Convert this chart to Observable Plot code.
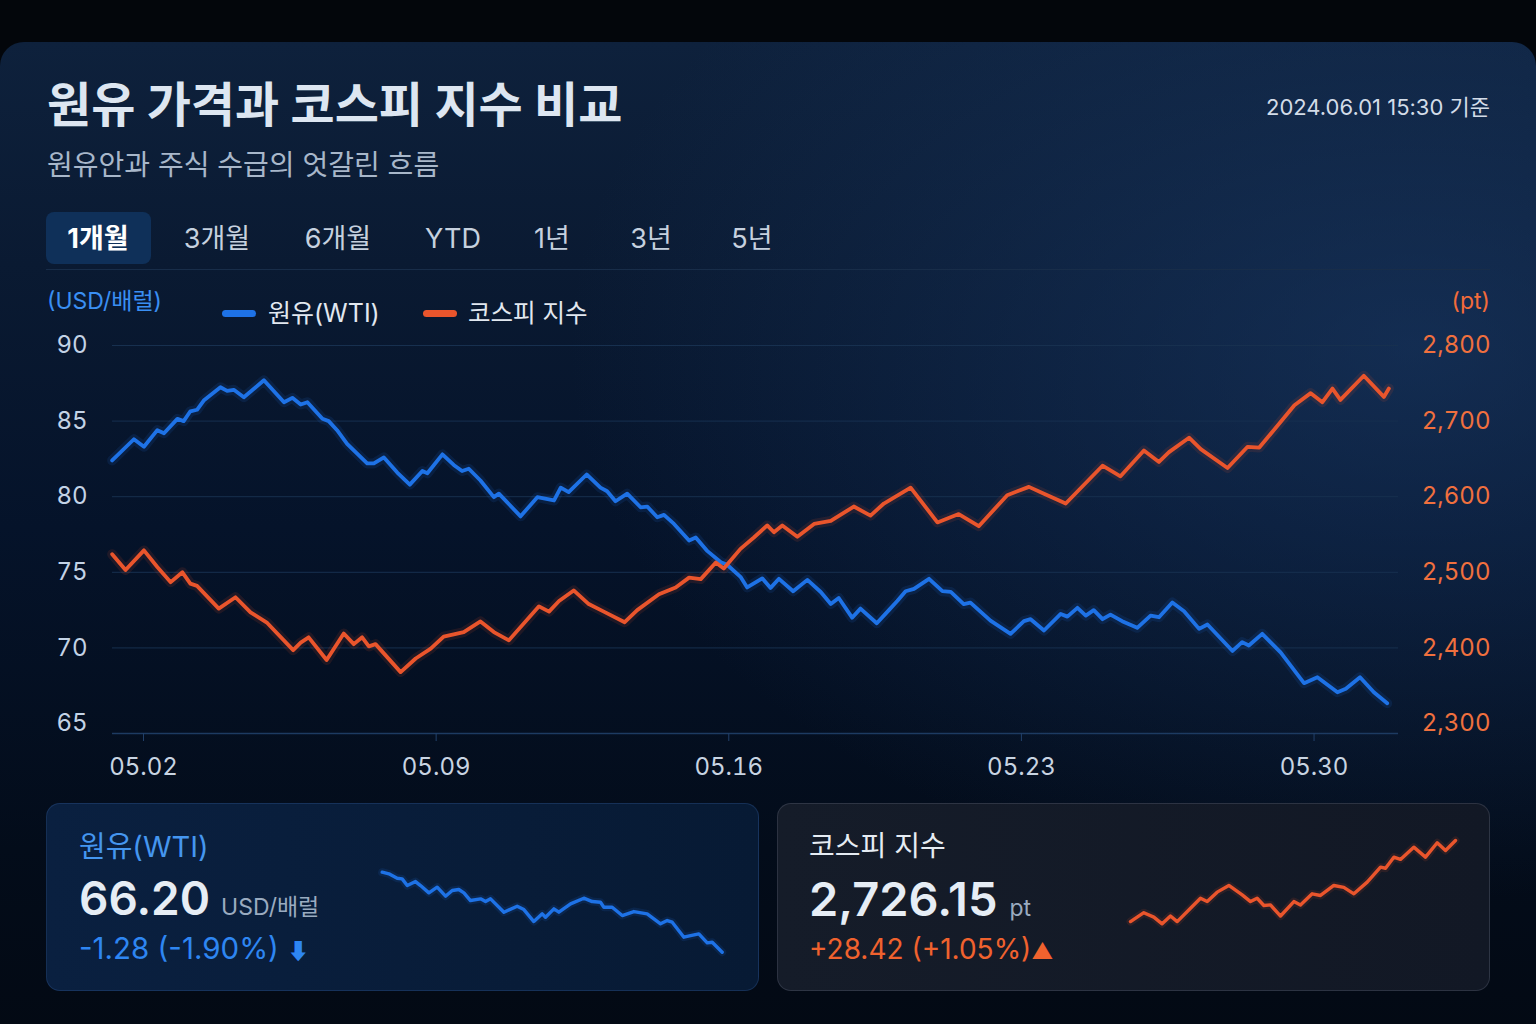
<!DOCTYPE html>
<html lang="ko">
<head>
<meta charset="utf-8">
<script src="https://cdn.jsdelivr.net/npm/d3@7"></script>
<script src="https://cdn.jsdelivr.net/npm/@observablehq/plot@0.6"></script>
<style>
  html, body { margin:0; padding:0; }
  body { width:1536px; height:1024px; overflow:hidden; background:#03060b;
         font-family: Inter, "Noto Sans CJK KR", "Noto Sans", sans-serif; }
  .card { position:absolute; left:0; top:42px; width:1536px; height:1010px; border-radius:24px;
          background:
            radial-gradient(ellipse 55% 55% at 92% 30%, rgba(28,62,110,0.55), rgba(28,62,110,0) 100%),
            linear-gradient(to bottom, #0e213c 0%, #0a1a32 22%, #05132a 48%, #030c1a 80%, #030913 100%); }
  .t { position:absolute; line-height:1; white-space:nowrap; }
  .tab { position:absolute; top:224.5px; width:100px; text-align:center; font-size:27px; line-height:1; color:#c6d1df; }
  .sel { position:absolute; left:46px; top:212px; width:105px; height:52px; border-radius:8px; background:#0f3059; }
  .box { position:absolute; top:803px; width:713px; height:188px; border-radius:14px; box-sizing:border-box; }
  .big { display:flex; align-items:baseline; }
  #main, #sparkOil, #sparkKospi { position:absolute; }
</style>
</head>
<body>
<div class="card"></div>

<div class="t" style="left:47px; top:80.5px; font-size:48px; font-weight:700; color:#dde6f1;">원유 가격과 코스피 지수 비교</div>
<div class="t" style="left:47px; top:151px; font-size:28px; color:#a8b7ca;">원유안과 주식 수급의 엇갈린 흐름</div>
<div class="t" style="right:46px; top:96px; font-size:22px; color:#d3dce8;">2024.06.01 15:30 기준</div>

<div class="sel"></div>
<div class="tab" style="left:48px; color:#ffffff; font-weight:700;">1개월</div>
<div class="tab" style="left:167px;">3개월</div>
<div class="tab" style="left:288px;">6개월</div>
<div class="tab" style="left:403px;">YTD</div>
<div class="tab" style="left:502px;">1년</div>
<div class="tab" style="left:601px;">3년</div>
<div class="tab" style="left:702px;">5년</div>
<div class="t" style="left:46px; top:269px; width:1444px; height:1px; background:#182d49;"></div>

<div class="t" style="left:47px; top:289.5px; font-size:23px; color:#3a8ff3;">(USD/배럴)</div>
<div class="t" style="left:222px; top:309.5px; width:34px; height:7px; border-radius:4px; background:#1e72e6;"></div>
<div class="t" style="left:268px; top:300.5px; font-size:25px; color:#e2e8f0;">원유(WTI)</div>
<div class="t" style="left:423px; top:309.5px; width:34px; height:7px; border-radius:4px; background:#ea552c;"></div>
<div class="t" style="left:468px; top:300.5px; font-size:24.5px; color:#e2e8f0;">코스피 지수</div>
<div class="t" style="right:46px; top:289.5px; font-size:23px; color:#f26b3a;">(pt)</div>

<div id="main" style="left:0px; top:330px;"></div>

<div class="box" style="left:46px; background:linear-gradient(to right, #0a2040, #071a34); border:1px solid rgba(50,90,150,0.35);"></div>
<div class="box" style="left:777px; background:linear-gradient(to right, #151c29, #121825); border:1px solid rgba(110,120,140,0.28);"></div>

<div class="t" style="left:79px; top:831.5px; font-size:29px; color:#4596ef;">원유(WTI)</div>
<div class="t big" style="left:79px; top:875px; font-size:46px; font-weight:600; color:#e6edf5;">66.20<span style="font-size:23px; font-weight:400; color:#9aabc0; margin-left:11px;">USD/배럴</span></div>
<div class="t" style="left:79px; top:934px; font-size:29.5px; color:#2e86f2;">-1.28 (-1.90%) <span style="font-size:22px;">⬇</span></div>

<div class="t" style="left:809px; top:832px; font-size:28px; color:#e6ecf3;">코스피 지수</div>
<div class="t big" style="left:809px; top:874.5px; font-size:47px; font-weight:600; color:#e6edf5;">2,726.15<span style="font-size:23px; font-weight:400; color:#9aabc0; margin-left:12px;">pt</span></div>
<div class="t" style="left:809px; top:935px; font-size:28px; color:#f0622e;">+28.42 (+1.05%)<span style="font-size:22px;">▲</span></div>

<div id="sparkOil" style="left:375px; top:860px;"></div>
<div id="sparkKospi" style="left:1120px; top:830px;"></div>

<script>
// ---------------- data ----------------
// day-of-May positions (fractional) and WTI prices, USD/bbl
const oilDays = [1.25,1.77,2.01,2.33,2.49,2.81,2.96,3.12,3.28,3.44,3.84,4.00,4.16,4.40,4.88,5.36,5.56,5.76,5.92,6.28,6.43,6.63,6.87,7.03,7.35,7.51,7.75,8.07,8.37,8.67,8.79,9.15,9.42,9.62,9.78,10.06,10.38,10.50,11.02,11.42,11.82,11.98,12.17,12.60,12.93,13.09,13.29,13.57,13.89,14.05,14.29,14.45,14.69,15.05,15.21,15.49,15.81,15.96,16.28,16.44,16.80,17.00,17.20,17.54,17.88,18.20,18.44,18.63,18.95,19.15,19.54,19.83,20.03,20.23,20.43,20.79,21.11,21.31,21.62,21.78,22.26,22.74,23.06,23.22,23.54,23.94,24.10,24.34,24.54,24.73,24.94,25.13,25.41,25.77,26.09,26.29,26.61,26.89,27.25,27.45,28.05,28.28,28.44,28.76,29.20,29.76,30.08,30.56,30.76,31.10,31.43,31.75];
const oilValues = [82.4,83.8,83.3,84.4,84.2,85.15,85.0,85.65,85.75,86.36,87.24,87.0,87.07,86.58,87.7,86.25,86.54,86.1,86.25,85.15,85.0,84.4,83.5,83.06,82.2,82.2,82.6,81.6,80.8,81.7,81.55,82.8,82.1,81.7,81.85,81.07,79.97,80.2,78.7,79.97,79.75,80.6,80.3,81.47,80.6,80.36,79.7,80.2,79.3,79.35,78.64,78.8,78.2,77.1,77.3,76.4,75.67,75.5,74.7,74.0,74.6,73.97,74.57,73.75,74.5,73.7,72.9,73.3,72.0,72.6,71.63,72.5,73.1,73.75,73.9,74.57,73.75,73.7,72.9,73.0,71.8,70.93,71.77,71.9,71.15,72.25,72.07,72.65,72.14,72.5,71.9,72.2,71.77,71.33,72.14,72.03,73.0,72.43,71.26,71.55,69.8,70.38,70.16,70.93,69.7,67.67,68.06,67.07,67.3,68.06,67.07,66.34];

// day-of-May positions and KOSPI index, pt
const kospiDays = [1.25,1.57,2.01,2.33,2.65,2.93,3.12,3.28,3.80,4.20,4.56,4.96,5.58,5.76,5.95,6.38,6.79,7.03,7.23,7.39,7.55,8.15,8.51,8.87,9.18,9.66,10.06,10.38,10.74,11.46,11.70,11.94,12.29,12.65,13.01,13.51,13.81,14.33,14.73,15.05,15.33,15.69,15.88,16.28,16.60,16.92,17.08,17.28,17.64,18.04,18.44,18.99,19.39,19.71,20.35,20.99,21.50,21.98,22.66,23.18,23.54,24.06,24.94,25.37,25.93,26.29,26.53,27.01,27.29,27.93,28.41,28.69,29.53,29.92,30.20,30.44,30.63,31.19,31.67,31.79];
const kospiValues = [2524,2503,2529,2507,2487,2500,2485,2482,2452,2467,2447,2433,2397,2407,2414,2384,2419,2405,2414,2402,2405,2368,2386,2399,2415,2421,2435,2421,2410,2455,2448,2462,2476,2458,2448,2434,2450,2471,2480,2493,2491,2513,2505,2531,2546,2562,2553,2562,2547,2564,2568,2587,2575,2591,2612,2566,2577,2561,2602,2613,2604,2591,2641,2627,2661,2646,2659,2678,2663,2638,2666,2665,2721,2737,2725,2743,2728,2760,2732,2743];

// sparkline series in the summary cards
const sparkOilDays = [1.00,1.59,2.32,2.76,3.21,3.94,4.38,5.12,5.85,6.59,7.18,7.76,8.21,8.79,9.68,10.12,10.56,11.74,12.91,13.50,14.38,15.12,15.41,16.15,16.59,17.62,18.79,19.53,20.26,20.56,21.29,22.18,23.21,24.38,25.56,26.15,26.59,27.62,28.21,28.94,29.68,30.12,31.00];
const sparkOilValues = [82.2,81.87,81.0,80.87,79.53,80.33,79.53,78.07,79.2,77.4,78.53,78.73,78.07,76.53,76.87,76.33,76.87,74.2,75.4,74.73,72.33,73.87,73.2,74.87,74.2,75.87,77.0,76.33,76.2,75.2,75.2,73.53,74.33,73.87,71.87,72.53,72.2,69.2,69.53,69.87,68.07,68.2,66.2];
const sparkKospiDays = [1.00,2.23,3.15,3.92,4.69,5.31,6.54,7.46,8.08,9.00,10.08,11.31,12.08,12.69,13.31,13.92,14.85,16.08,16.69,17.77,18.54,19.77,20.69,21.62,22.85,24.08,24.54,25.31,25.92,27.15,28.23,29.31,30.08,31.00];
const sparkKospiValues = [2434,2466,2450,2426,2454,2434,2482,2518,2506,2540,2564,2530,2506,2518,2492,2494,2454,2506,2494,2534,2528,2564,2557,2534,2576,2630,2626,2666,2658,2702,2666,2718,2690,2726];

// axes
const oilTicks = [65, 70, 75, 80, 85, 90];
const kospiTicks = [2300, 2400, 2500, 2600, 2700, 2800];
const xTickDays = [2, 9, 16, 23, 30];
const xDomainDays = [1.258, 32.02];
const yDomain = [64.34, 90];

// KOSPI is drawn on the oil scale: 2,300 pt ↔ 65 USD, 20 pt per USD
const kospiBase = 2300, oilBase = 65, kospiPerOil = 20;

// ---------------- helpers ----------------
const toDate = d => new Date(Date.UTC(2024, 4, 1) + (d - 1) * 864e5);
const kospiToOil = k => oilBase + (k - kospiBase) / kospiPerOil;
const oilToKospi = v => kospiBase + (v - oilBase) * kospiPerOil;

const oilData = oilDays.map((d, i) => ({date: toDate(d), v: oilValues[i]}));
const kospiData = kospiDays.map((d, i) => ({date: toDate(d), v: kospiToOil(kospiValues[i])}));
const OIL = "#1e72e6", KOSPI = "#ea552c";

const main = Plot.plot({
  width: 1536, height: 470,
  marginLeft: 112, marginRight: 138, marginTop: 15, marginBottom: 67,
  style: {background: "transparent", fontFamily: 'Inter, "Noto Sans CJK KR", sans-serif', overflow: "visible"},
  x: {type: "utc", domain: xDomainDays.map(toDate)},
  y: {domain: yDomain},
  marks: [
    Plot.gridY(oilTicks.filter(t => t > oilBase), {stroke: "#17304f", strokeOpacity: 1, strokeWidth: 1}),
    Plot.ruleY([yDomain[0]], {stroke: "#1d3b62", strokeWidth: 1.5}),
    Plot.axisY(oilTicks, {anchor: "left", tickSize: 0, tickPadding: 25, fontSize: 24, fill: "#c3d3e6", label: null}),
    Plot.axisY(kospiTicks.map(kospiToOil), {anchor: "right", tickSize: 0, tickPadding: 92, textAnchor: "end",
      fontSize: 24, fill: "#f0703e", label: null, tickFormat: v => d3.format(",")(Math.round(oilToKospi(v)))}),
    Plot.axisX(xTickDays.map(toDate), {tickSize: 8, stroke: "#22406a", tickPadding: 16, fontSize: 24,
      fill: "#c8d4e2", label: null, tickFormat: d3.utcFormat("%m.%d")}),
    Plot.line(oilData, {x: "date", y: "v", stroke: OIL, strokeWidth: 10, strokeOpacity: 0.12}),
    Plot.line(kospiData, {x: "date", y: "v", stroke: KOSPI, strokeWidth: 10, strokeOpacity: 0.12}),
    Plot.line(oilData, {x: "date", y: "v", stroke: OIL, strokeWidth: 3.8, strokeLinejoin: "round"}),
    Plot.line(kospiData, {x: "date", y: "v", stroke: KOSPI, strokeWidth: 3.8, strokeLinejoin: "round"})
  ]
});
document.getElementById("main").append(main);

function spark(days, values, color, w, h, m) {
  const data = days.map((d, i) => ({d, v: values[i]}));
  return Plot.plot({
    width: w, height: h, marginLeft: m[0], marginRight: m[1], marginTop: m[2], marginBottom: m[3],
    style: {background: "transparent", overflow: "visible"},
    x: {domain: d3.extent(days), axis: null},
    y: {domain: d3.extent(values), axis: null},
    marks: [
      Plot.line(data, {x: "d", y: "v", stroke: color, strokeWidth: 8, strokeOpacity: 0.12}),
      Plot.line(data, {x: "d", y: "v", stroke: color, strokeWidth: 3.4, strokeLinejoin: "round"})
    ]
  });
}
document.getElementById("sparkOil").append(spark(sparkOilDays, sparkOilValues, OIL, 355, 100, [6.7, 8.3, 11.7, 8.3]));
document.getElementById("sparkKospi").append(spark(sparkKospiDays, sparkKospiValues, KOSPI, 345, 100, [10, 10, 10, 6.7]));
</script>
</body>
</html>
